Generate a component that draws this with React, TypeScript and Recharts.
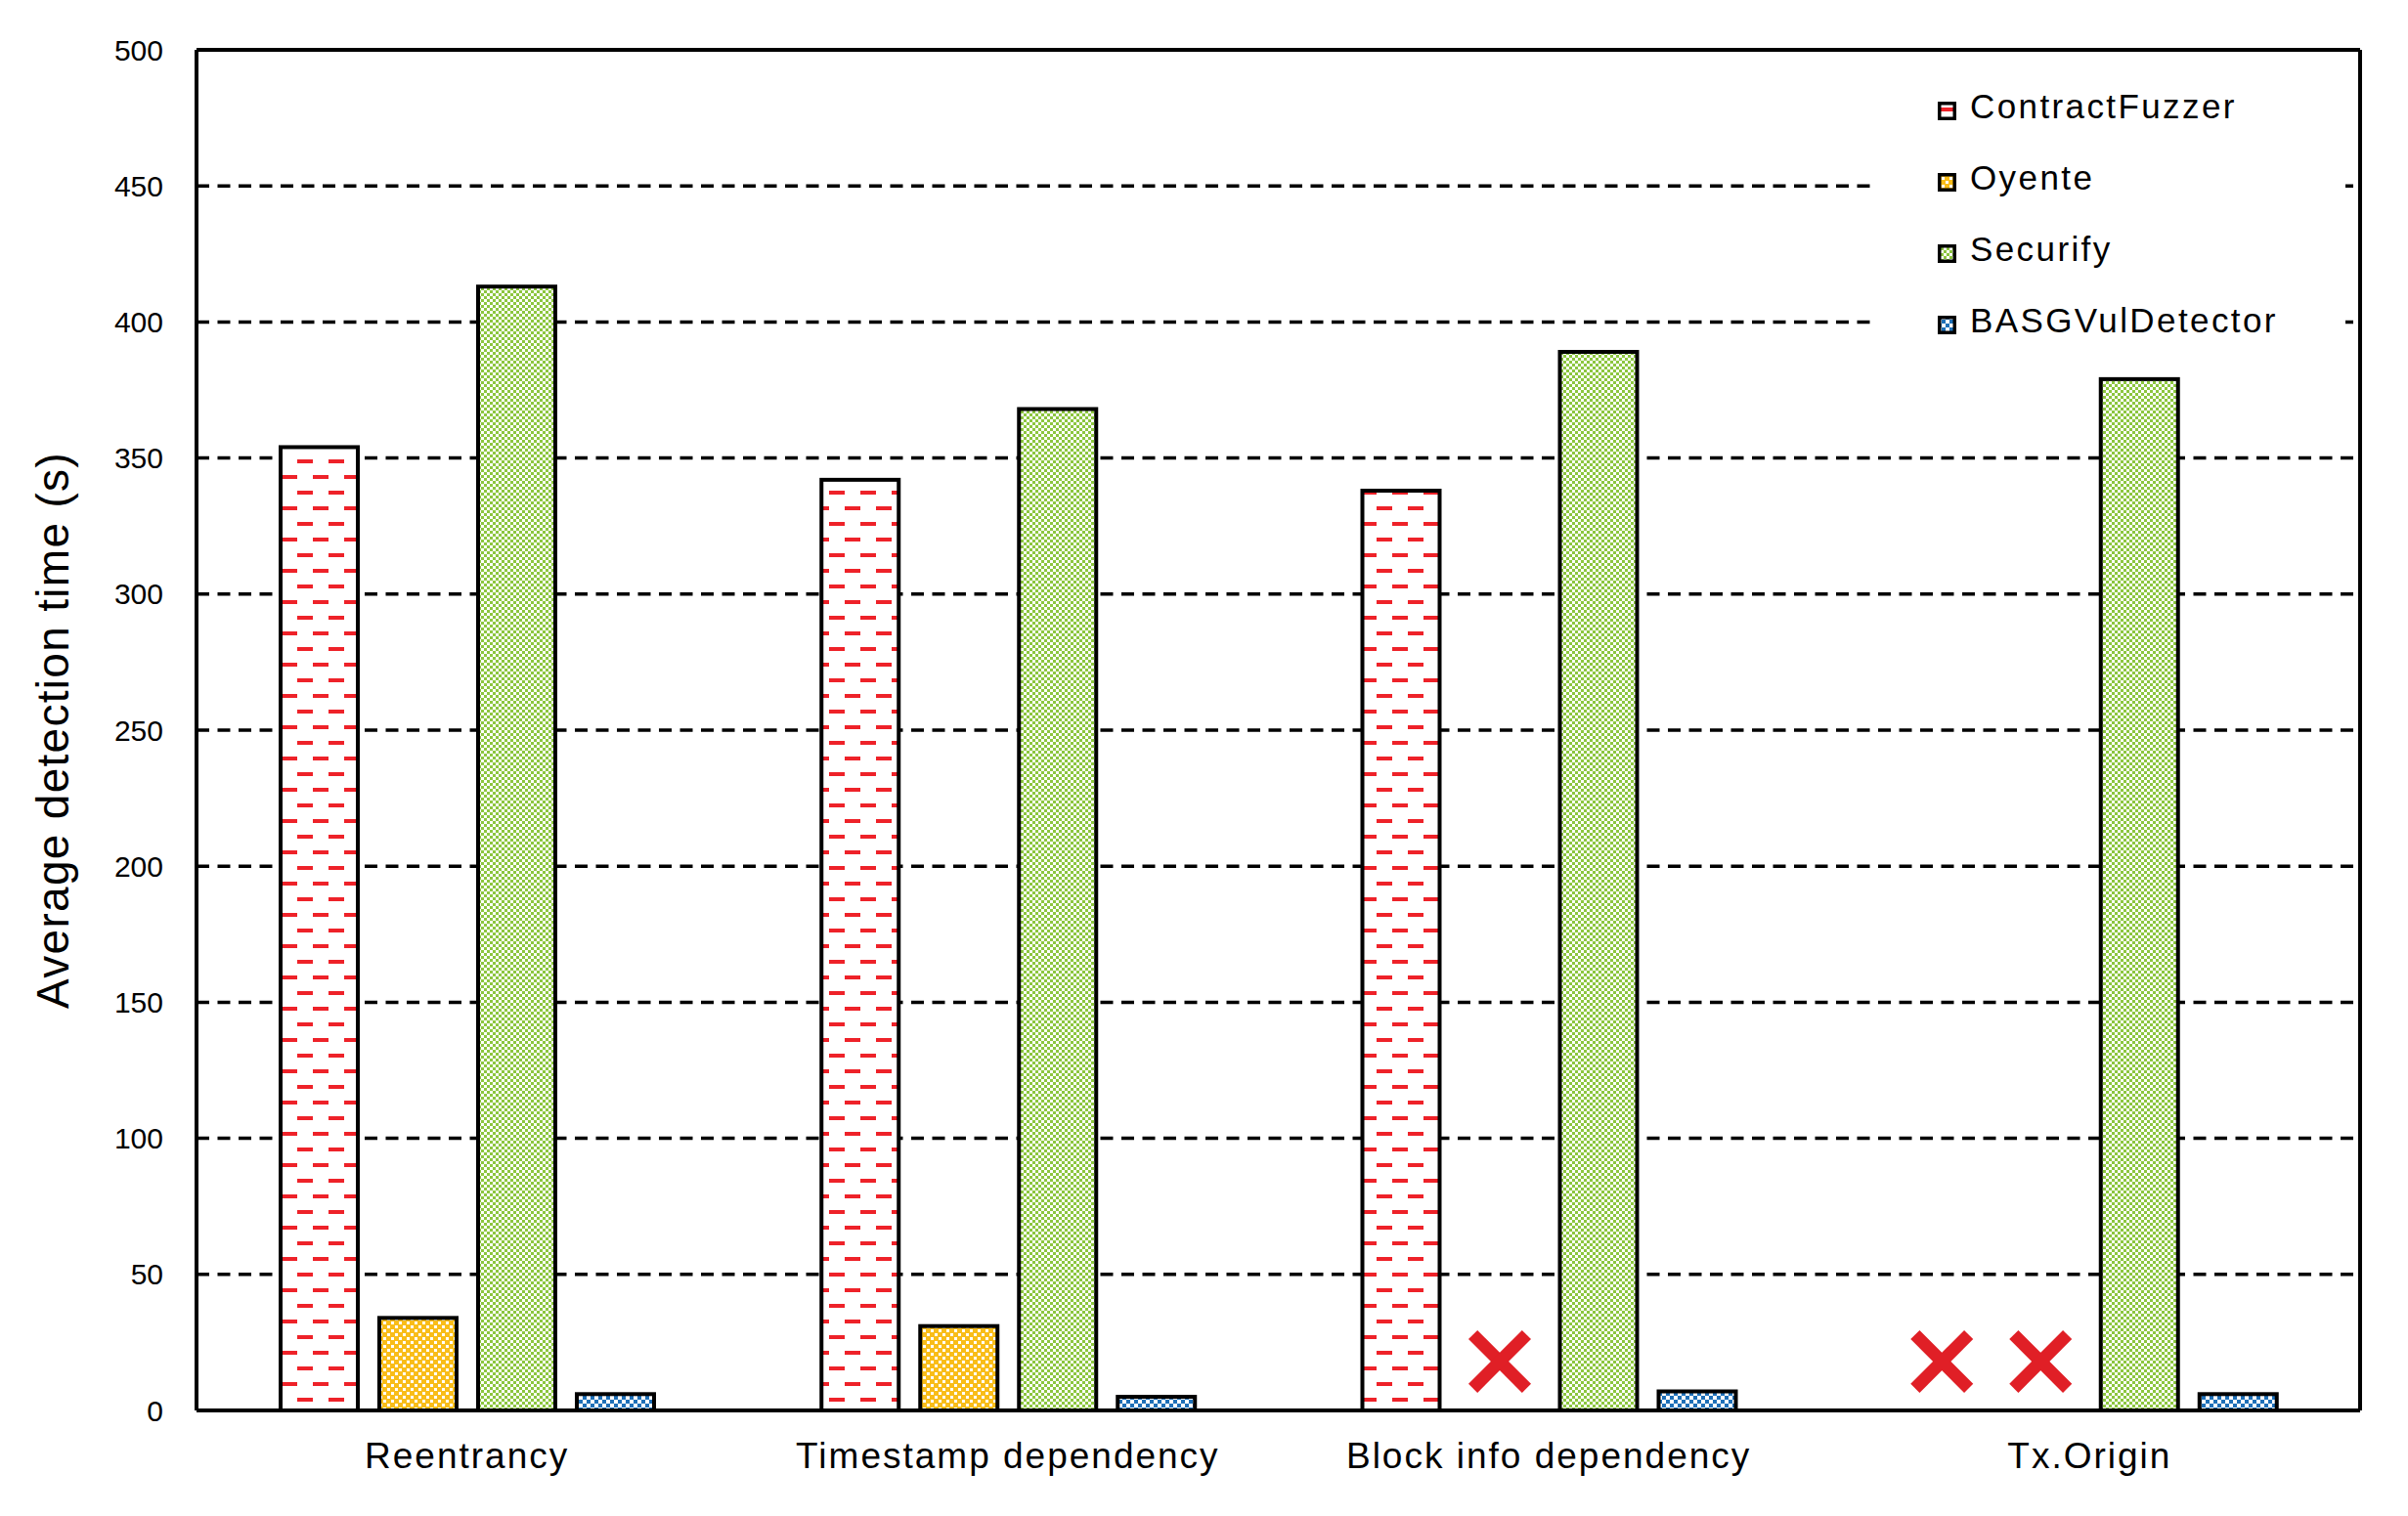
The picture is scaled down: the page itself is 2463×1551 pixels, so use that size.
import React from 'react';
import { BarChart, Bar, XAxis, YAxis, CartesianGrid, Legend, ReferenceLine } from 'recharts';

const CATEGORIES = ['Reentrancy', 'Timestamp dependency', 'Block info dependency', 'Tx.Origin'];
const CONTRACT_FUZZER: (number | null)[] = [354, 342, 338, null];
const OYENTE: (number | null)[] = [34, 31, null, null];
const SECURIFY: (number | null)[] = [413, 368, 389, 379];
const BASG: (number | null)[] = [6, 5, 7, 6];
const Y_TICKS = [0, 50, 100, 150, 200, 250, 300, 350, 400, 450, 500];
// value level at which the red "not supported" cross is drawn
const MISSING_MARK_LEVEL = 18;

const SERIES = [
  { key: 'ContractFuzzer', values: CONTRACT_FUZZER, pid: 'pat-cf' },
  { key: 'Oyente', values: OYENTE, pid: 'pat-oy' },
  { key: 'Securify', values: SECURIFY, pid: 'pat-se' },
  { key: 'BASGVulDetector', values: BASG, pid: 'pat-ba' },
];

const data = CATEGORIES.map((c, i) => {
  const row: any = { category: c };
  SERIES.forEach((s) => {
    const v = s.values[i];
    row[s.key] = v == null ? MISSING_MARK_LEVEL : v;
    row[s.key + '_missing'] = v == null;
  });
  return row;
});

const FONT = '"Liberation Sans", Arial, sans-serif';
const RED = '#ee2229';
const YELLOW = '#f9bd19';
const GREEN = '#8cc63f';
const BLUE = '#1f70b8';

const PatternDefs = ({ prefix }: { prefix: string }) => (
  <defs>
    <pattern id={prefix + 'pat-cf'} patternUnits="userSpaceOnUse" width={32} height={32}>
      <rect x={0} y={0} width={32} height={32} fill="#fff" />
      <rect x={0} y={6} width={16} height={4} fill={RED} />
      <rect x={16} y={22} width={16} height={4} fill={RED} />
    </pattern>
    <pattern id={prefix + 'pat-oy'} patternUnits="userSpaceOnUse" width={8} height={8}>
      <rect x={0} y={0} width={8} height={8} fill={YELLOW} />
      <rect x={0} y={0} width={3} height={3} fill="#fff" />
      <rect x={4} y={4} width={3} height={3} fill="#fff" />
    </pattern>
    <pattern id={prefix + 'pat-se'} patternUnits="userSpaceOnUse" width={6} height={6}>
      <rect x={0} y={0} width={6} height={6} fill="#fff" />
      <rect x={0} y={0} width={3} height={3} fill={GREEN} />
      <rect x={3} y={3} width={3} height={3} fill={GREEN} />
    </pattern>
    <pattern id={prefix + 'pat-ba'} patternUnits="userSpaceOnUse" width={8} height={8}>
      <rect x={0} y={0} width={8} height={8} fill="#fff" />
      <rect x={0} y={0} width={4} height={4} fill={BLUE} />
      <rect x={4} y={4} width={4} height={4} fill={BLUE} />
    </pattern>
  </defs>
);

const makeShape = (pid: string, missingKey: string) => (props: any) => {
  const { x, y, width, height, payload } = props;
  if (payload && payload[missingKey]) {
    const cx = x + width / 2;
    const cy = y;
    const h = 27.4;
    return (
      <g>
        <line x1={cx - h} y1={cy - h} x2={cx + h} y2={cy + h} stroke="#e01f26" strokeWidth={13} />
        <line x1={cx - h} y1={cy + h} x2={cx + h} y2={cy - h} stroke="#e01f26" strokeWidth={13} />
      </g>
    );
  }
  return <rect x={x} y={y} width={width} height={height} fill={`url(#${pid})`} stroke="#000" strokeWidth={4} />;
};

const renderLegend = () => (
  <div style={{ background: '#fff', width: 486, height: 300, paddingTop: 19.5, boxSizing: 'border-box' }}>
    {SERIES.map((s) => (
      <div key={s.key} style={{ height: 73, display: 'flex', alignItems: 'center', paddingLeft: 69 }}>
        <svg width={19} height={19} style={{ marginTop: 8, flex: 'none' }}>
          <PatternDefs prefix={'lg-' + s.key + '-'} />
          <rect x={1.75} y={1.75} width={15.5} height={15.5} fill={`url(#lg-${s.key}-${s.pid})`} stroke="#000" strokeWidth={3.5} />
        </svg>
        <span style={{ marginLeft: 14, fontFamily: FONT, fontSize: 35, letterSpacing: 2.4, color: '#000', whiteSpace: 'nowrap' }}>
          {s.key}
        </span>
      </div>
    ))}
  </div>
);

const YLabel = (props: any) => {
  const vb = props.viewBox || { x: 0, y: 51, width: 201, height: 1392 };
  const cx = vb.x + 70;
  const cy = vb.y + vb.height / 2;
  return (
    <text x={cx} y={cy} transform={`rotate(-90, ${cx}, ${cy})`} textAnchor="middle" fontFamily={FONT} fontSize={46} letterSpacing={1.3} fill="#000">
      Average detection time (s)
    </text>
  );
};

const FRAME_LINE = { stroke: '#000', strokeWidth: 4 };

export default function App() {
  return (
    <div style={{ position: 'absolute', left: 0, top: 0, width: 2463, height: 1551, background: '#fff' }}>
      <svg width={0} height={0} style={{ position: 'absolute' }}>
        <PatternDefs prefix="" />
      </svg>
      <BarChart width={2463} height={1551} data={data} margin={{ top: 51, right: 49, left: 0, bottom: 0 }} barGap={22}>
        <CartesianGrid horizontal vertical={false} stroke="#000" strokeWidth={3.5} strokeDasharray="13 8.5" />
        <XAxis
          dataKey="category"
          height={108}
          interval={0}
          axisLine={FRAME_LINE}
          tickLine={false}
          tickSize={0}
          tickMargin={33}
          tick={{ fontSize: 37, fill: '#000', fontFamily: FONT, letterSpacing: 2 }}
        />
        <YAxis
          type="number"
          domain={[0, 500]}
          ticks={Y_TICKS}
          interval={0}
          width={201}
          axisLine={FRAME_LINE}
          tickLine={false}
          tickSize={0}
          tickMargin={34}
          tick={{ fontSize: 30, fill: '#000', fontFamily: FONT }}
          label={<YLabel />}
        />
        {SERIES.map((s) => (
          <Bar
            key={s.key}
            dataKey={s.key}
            name={s.key}
            barSize={79}
            isAnimationActive={false}
            shape={makeShape(s.pid, s.key + '_missing')}
          />
        ))}
        <ReferenceLine y={Y_TICKS[Y_TICKS.length - 1]} stroke="#000" strokeWidth={4} />
        <ReferenceLine x={CATEGORIES[CATEGORIES.length - 1]} position="end" stroke="#000" strokeWidth={4} />
        <Legend
          layout="vertical"
          align="center"
          verticalAlign="middle"
          content={renderLegend}
          wrapperStyle={{ position: 'absolute', left: 1913, top: 53, width: 486, height: 300, bottom: 'auto', right: 'auto' }}
        />
      </BarChart>
    </div>
  );
}
